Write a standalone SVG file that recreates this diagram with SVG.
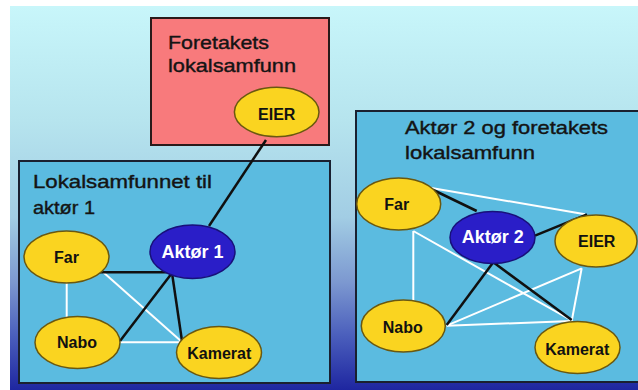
<svg xmlns="http://www.w3.org/2000/svg" width="638" height="390" viewBox="0 0 638 390">
<defs>
<linearGradient id="bg" x1="0" y1="0" x2="0" y2="1">
<stop offset="0" stop-color="#c8f6fa"/>
<stop offset="0.3" stop-color="#b6e4ee"/>
<stop offset="0.55" stop-color="#a2cde4"/>
<stop offset="0.72" stop-color="#7c98d0"/>
<stop offset="0.86" stop-color="#4a5ebc"/>
<stop offset="1" stop-color="#1e26a0"/>
</linearGradient>
<style>
.box{fill:#5bbbe0;stroke:#1a2030;stroke-width:2}
.pink{fill:#f87a7c;stroke:#2a1a1a;stroke-width:2}
.title{font-family:"Liberation Sans",Arial,sans-serif;font-size:19px;fill:#141414;stroke:#141414;stroke-width:0.4}
.yel{fill:#fad420;stroke:#6a5810;stroke-width:1.5}
.blu{fill:#2a1ec8;stroke:#18107a;stroke-width:1.5}
.nt{font-family:"Liberation Sans",Arial,sans-serif;font-size:16px;font-weight:bold;fill:#111;text-anchor:middle}
.at{font-family:"Liberation Sans",Arial,sans-serif;font-size:18px;font-weight:bold;fill:#fff;text-anchor:middle}
.k{stroke:#101010;stroke-width:2.5;fill:none}
.w{stroke:#ffffff;stroke-width:2;fill:none}
</style>
</defs>
<rect x="0" y="0" width="638" height="390" fill="#ffffff"/>
<rect x="10" y="6" width="628" height="384" fill="url(#bg)"/>

<g id="box-foretakets">
<rect class="pink" x="151" y="18" width="178" height="127"/>
<text class="title" x="168" y="48.5" textLength="101" lengthAdjust="spacingAndGlyphs">Foretakets</text>
<text class="title" x="168" y="72" textLength="128" lengthAdjust="spacingAndGlyphs">lokalsamfunn</text>
</g>

<g id="box-aktor1">
<rect class="box" x="19" y="161" width="311" height="222"/>
<text class="title" x="33" y="188" textLength="179" lengthAdjust="spacingAndGlyphs">Lokalsamfunnet til</text>
<text class="title" x="33" y="213.5" textLength="62" lengthAdjust="spacingAndGlyphs">aktør 1</text>
</g>

<g id="box-aktor2">
<rect class="box" x="356" y="111" width="290" height="271"/>
<text class="title" x="405" y="133.5" textLength="203" lengthAdjust="spacingAndGlyphs">Aktør 2 og foretakets</text>
<text class="title" x="405" y="158.5" textLength="130" lengthAdjust="spacingAndGlyphs">lokalsamfunn</text>
</g>

<g id="connectors">
<line class="k" x1="266" y1="140" x2="209" y2="226"/>
<line class="w" x1="66.7" y1="283" x2="66.7" y2="317"/>
<line class="w" x1="103" y1="272" x2="182" y2="342"/>
<line class="w" x1="120" y1="342.3" x2="182" y2="342.3"/>
<line class="k" x1="98" y1="272.3" x2="172" y2="272.3"/>
<line class="k" x1="172" y1="273" x2="120" y2="341"/>
<line class="k" x1="172" y1="273" x2="182" y2="341"/>

<line class="w" x1="430" y1="187.7" x2="585" y2="214.3"/>
<line class="w" x1="413.3" y1="231" x2="413.3" y2="301.7"/>
<line class="w" x1="413.3" y1="231" x2="571.7" y2="320.5"/>
<line class="w" x1="446.7" y1="325.7" x2="571.7" y2="321"/>
<line class="w" x1="446.7" y1="325.7" x2="581.7" y2="268.3"/>
<line class="w" x1="581.7" y1="268.3" x2="571.7" y2="321"/>
<line class="k" x1="433.3" y1="190" x2="476.7" y2="211"/>
<line class="k" x1="535" y1="235.7" x2="587" y2="214.3"/>
<line class="k" x1="493.3" y1="262.3" x2="446.7" y2="325"/>
<line class="k" x1="493.3" y1="262.3" x2="571.7" y2="320"/>
</g>

<g id="eier1">
<ellipse class="yel" cx="276.7" cy="112" rx="42.3" ry="24.7"/>
<text class="nt" x="276.7" y="120">EIER</text>
</g>
<g id="far1">
<ellipse class="yel" cx="66.5" cy="257" rx="42.5" ry="26"/>
<text class="nt" x="66.5" y="263">Far</text>
</g>
<g id="aktor1">
<ellipse class="blu" cx="192.5" cy="251.7" rx="42.5" ry="26.7"/>
<text class="at" x="192.5" y="258.3">Aktør 1</text>
</g>
<g id="nabo1">
<ellipse class="yel" cx="77.5" cy="342.5" rx="42.5" ry="26"/>
<text class="nt" x="77" y="348.3">Nabo</text>
</g>
<g id="kamerat1">
<ellipse class="yel" cx="219" cy="352.5" rx="42.5" ry="26"/>
<text class="nt" x="219.3" y="359">Kamerat</text>
</g>

<g id="far2">
<ellipse class="yel" cx="398.7" cy="204" rx="42" ry="26"/>
<text class="nt" x="396.7" y="210">Far</text>
</g>
<g id="aktor2">
<ellipse class="blu" cx="492.5" cy="237.5" rx="42.5" ry="26"/>
<text class="at" x="492.7" y="242.5">Aktør 2</text>
</g>
<g id="eier2">
<ellipse class="yel" cx="596" cy="241" rx="41" ry="26"/>
<text class="nt" x="596.7" y="246.7">EIER</text>
</g>
<g id="nabo2">
<ellipse class="yel" cx="403.3" cy="326" rx="42" ry="26"/>
<text class="nt" x="402.7" y="333">Nabo</text>
</g>
<g id="kamerat2">
<ellipse class="yel" cx="577.5" cy="347.5" rx="42.5" ry="26"/>
<text class="nt" x="577.3" y="355">Kamerat</text>
</g>
</svg>
